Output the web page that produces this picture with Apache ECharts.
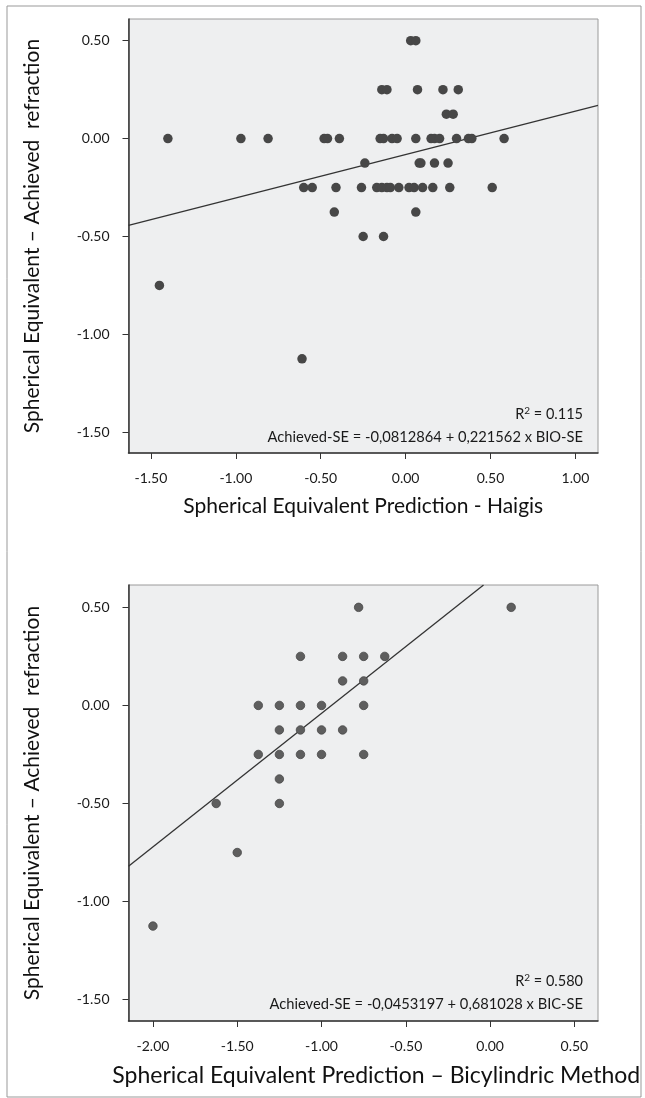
<!DOCTYPE html>
<html>
<head>
<meta charset="utf-8">
<script src="https://cdn.jsdelivr.net/npm/echarts@6/dist/echarts.min.js"></script>
<style>
html,body{margin:0;padding:0;background:#fff;}
#c{width:645px;height:1098px;}
</style>
</head>
<body>
<div id="c"></div>
<script>
// ---- Top panel: Haigis ----
const haigisPred = [
  0.03, 0.06,
  -0.14, -0.11, 0.07, 0.22, 0.31,
  0.24, 0.28,
  -1.40, -0.97, -0.81, -0.48, -0.46, -0.39, -0.15, -0.13, -0.08, -0.05, 0.06, 0.15, 0.17, 0.20, 0.30, 0.37, 0.39, 0.58,
  -0.24, 0.08, 0.09, 0.17, 0.25,
  -0.60, -0.55, -0.41, -0.26, -0.17, -0.14, -0.11, -0.09, -0.04, 0.02, 0.05, 0.10, 0.16, 0.26, 0.51,
  -0.42, 0.06,
  -0.25, -0.13,
  -1.45,
  -0.61
];
const haigisAchieved = [
  0.5, 0.5,
  0.25, 0.25, 0.25, 0.25, 0.25,
  0.125, 0.125,
  0, 0, 0, 0, 0, 0, 0, 0, 0, 0, 0, 0, 0, 0, 0, 0, 0, 0,
  -0.125, -0.125, -0.125, -0.125, -0.125,
  -0.25, -0.25, -0.25, -0.25, -0.25, -0.25, -0.25, -0.25, -0.25, -0.25, -0.25, -0.25, -0.25, -0.25, -0.25,
  -0.375, -0.375,
  -0.5, -0.5,
  -0.75,
  -1.125
];
const haigisFitX = [-1.632, 1.133];
const haigisFitY = [-0.443, 0.170];
const haigisXTicks = [-1.5, -1.0, -0.5, 0, 0.5, 1.0];
const haigisYTicks = [-1.5, -1.0, -0.5, 0, 0.5];

// ---- Bottom panel: Bicylindric ----
const bicPred = [
  -0.78, 0.125,
  -1.125, -0.875, -0.75, -0.625,
  -0.875, -0.75,
  -1.375, -1.25, -1.125, -1.0, -0.75,
  -1.25, -1.125, -1.0, -0.875,
  -1.375, -1.25, -1.125, -1.0, -0.75,
  -1.25,
  -1.625, -1.25,
  -1.5,
  -2.0
];
const bicAchieved = [
  0.5, 0.5,
  0.25, 0.25, 0.25, 0.25,
  0.125, 0.125,
  0, 0, 0, 0, 0,
  -0.125, -0.125, -0.125, -0.125,
  -0.25, -0.25, -0.25, -0.25, -0.25,
  -0.375,
  -0.5, -0.5,
  -0.75,
  -1.125
];
const bicFitX = [-2.145, -0.039];
const bicFitY = [-0.82, 0.614];
const bicXTicks = [-2.0, -1.5, -1.0, -0.5, 0, 0.5];
const bicYTicks = [-1.5, -1.0, -0.5, 0, 0.5];

const texts = {
  yTitle: 'Spherical Equivalent \u2013 Achieved  refraction',
  xTitleTop: 'Spherical Equivalent Prediction - Haigis',
  xTitleBottom: 'Spherical Equivalent Prediction \u2013 Bicylindric Method',
  r2Top: '0.115',
  eqTop: 'Achieved-SE = -0,0812864 + 0,221562 x BIO-SE',
  r2Bottom: '0.580',
  eqBottom: 'Achieved-SE = -0,0453197 + 0,681028 x BIC-SE'
};

const FONT = 'Lato';
const zip = (a, b) => a.map((v, i) => [v, b[i]]);
const fmt = v => v.toFixed(2);

function xAxis(gi, min, max, ticks, name, nameSize, padLeft) {
  return {
    gridIndex: gi, type: 'value', min: min, max: max,
    name: name, nameLocation: 'middle', nameGap: 43,
    nameTextStyle: {fontFamily: FONT, fontSize: nameSize, color: '#111', padding: [0, 0, 0, padLeft]},
    axisLine: {show: true, onZero: false, lineStyle: {color: '#333', width: 1.5}},
    axisTick: {show: true, length: 6, lineStyle: {color: '#333'}, customValues: ticks},
    axisLabel: {fontFamily: FONT, fontSize: 14, color: '#1a1a1a', margin: 18, customValues: ticks, formatter: fmt},
    splitLine: {show: false}
  };
}
function yAxis(gi, min, max, ticks) {
  return {
    gridIndex: gi, type: 'value', min: min, max: max,
    name: texts.yTitle, nameLocation: 'middle', nameGap: 86, nameRotate: 90,
    nameTextStyle: {fontFamily: FONT, fontSize: 21, color: '#111'},
    axisLine: {show: true, onZero: false, lineStyle: {color: '#333', width: 1.5}},
    axisTick: {show: true, length: 6, lineStyle: {color: '#333'}, customValues: ticks},
    axisLabel: {fontFamily: FONT, fontSize: 14, color: '#1a1a1a', margin: 19, customValues: ticks, formatter: fmt},
    splitLine: {show: false}
  };
}

const r2Rich = {
  n: {fontFamily: FONT, fontSize: 14.5, color: '#1a1a1a'},
  s: {fontFamily: FONT, fontSize: 10, color: '#1a1a1a', padding: [0, 0, 7, 0]}
};
function r2Text(x, y, v) {
  return {type: 'text', x: x, y: y, style: {
    text: '{n|R}{s|2}{n| = ' + v + '}', rich: r2Rich, align: 'right', verticalAlign: 'middle', fill: '#1a1a1a'
  }};
}

const chart = echarts.init(document.getElementById('c'), null, {renderer: 'canvas'});
chart.setOption({
  backgroundColor: '#ffffff',
  animation: false,
  grid: [
    {left: 128.5, top: 19, width: 469.5, height: 434, show: true, backgroundColor: '#eeeff0', borderColor: '#9a9a9a', borderWidth: 1},
    {left: 128.5, top: 585, width: 469.5, height: 436, show: true, backgroundColor: '#eeeff0', borderColor: '#9a9a9a', borderWidth: 1}
  ],
  xAxis: [
    xAxis(0, -1.632, 1.133, haigisXTicks, texts.xTitleTop, 21, 0),
    xAxis(1, -2.145, 0.640, bicXTicks, texts.xTitleBottom, 23, 26)
  ],
  yAxis: [
    yAxis(0, -1.606, 0.611, haigisYTicks),
    yAxis(1, -1.609, 0.614, bicYTicks)
  ],
  series: [
    {type: 'line', xAxisIndex: 0, yAxisIndex: 0, data: zip(haigisFitX, haigisFitY), symbol: 'none',
     lineStyle: {color: '#333', width: 1.3}, z: 2},
    {type: 'scatter', xAxisIndex: 0, yAxisIndex: 0, data: zip(haigisPred, haigisAchieved), symbolSize: 9.5,
     itemStyle: {color: '#474747', opacity: 1}, z: 3},
    {type: 'line', xAxisIndex: 1, yAxisIndex: 1, data: zip(bicFitX, bicFitY), symbol: 'none',
     lineStyle: {color: '#333', width: 1.3}, z: 2},
    {type: 'scatter', xAxisIndex: 1, yAxisIndex: 1, data: zip(bicPred, bicAchieved), symbolSize: 8.5,
     itemStyle: {color: '#5e5e5e', borderColor: '#474747', borderWidth: 0.8, opacity: 1}, z: 3}
  ],
  graphic: [
    {type: 'rect', shape: {x: 7, y: 6, width: 634, height: 1091}, style: {fill: 'none', stroke: '#999', lineWidth: 1}, silent: true},
    r2Text(583, 414, texts.r2Top),
    {type: 'text', x: 583, y: 437, style: {text: texts.eqTop, align: 'right', verticalAlign: 'middle', font: '14.7px Lato', fill: '#1a1a1a'}},
    r2Text(583, 981, texts.r2Bottom),
    {type: 'text', x: 583, y: 1004, style: {text: texts.eqBottom, align: 'right', verticalAlign: 'middle', font: '14.7px Lato', fill: '#1a1a1a'}}
  ]
});
</script>
</body>
</html>
